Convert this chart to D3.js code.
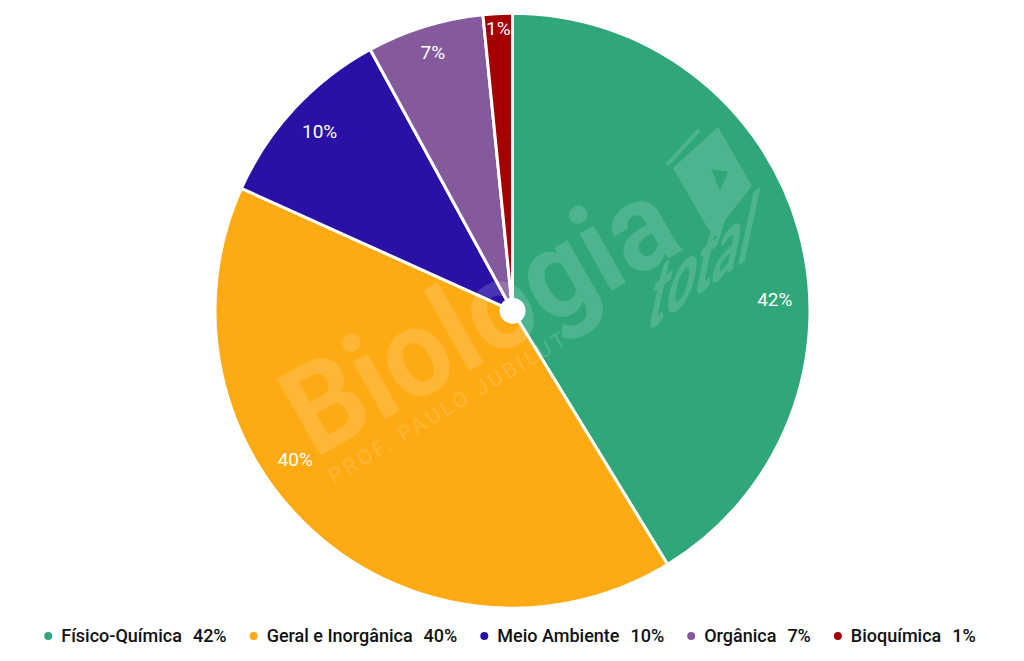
<!DOCTYPE html>
<html>
<head>
<meta charset="utf-8">
<script src="https://cdn.jsdelivr.net/npm/d3@7"></script>
<style>
  html, body { margin: 0; padding: 0; background: #ffffff; }
  svg { display: block; }
</style>
</head>
<body>
<svg id="chart" width="1024" height="661"></svg>
<script>
// ---- data ----
const categories = ["Físico-Química", "Geral e Inorgânica", "Meio Ambiente", "Orgânica", "Bioquímica"];
const values = [52, 51, 13, 8, 2];
const percentLabels = ["42%", "40%", "10%", "7%", "1%"];
const colors = ["#2FA77B", "#FDAA13", "#2A10A4", "#845A9C", "#A50000"];

// ---- layout ----
const cx = 512.5, cy = 310.7;
const R = 297.5;
const holeR = 13;
const svg = d3.select("#chart");

const data = categories.map((c, i) => ({ name: c, value: values[i], label: percentLabels[i], color: colors[i] }));

const pie = d3.pie().value(d => d.value).sort(null).startAngle(0).endAngle(2 * Math.PI);
const arcs = pie(data);
const arcGen = d3.arc().innerRadius(0).outerRadius(R);

const g = svg.append("g").attr("transform", `translate(${cx},${cy})`);

g.selectAll("path.slice")
  .data(arcs)
  .join("path")
  .attr("class", "slice")
  .attr("d", arcGen)
  .attr("fill", d => d.data.color)
  .attr("stroke", "#ffffff")
  .attr("stroke-width", 3)
  .attr("stroke-linejoin", "round");

// ---- watermark ----
const wm = svg.append("g").attr("opacity", 0.15).attr("fill", "#ffffff");
wm.append("text")
  .attr("transform", "translate(314,459) rotate(-29.5)")
  .attr("font-family", "Roboto, sans-serif")
  .attr("font-weight", 700)
  .attr("font-size", 124)
  .attr("textLength", 428)
  .attr("lengthAdjust", "spacingAndGlyphs")
  .text("Biologia");
wm.append("text")
  .attr("transform", "translate(334,484) rotate(-31)")
  .attr("font-family", "Roboto, sans-serif")
  .attr("font-weight", 400)
  .attr("font-size", 21)
  .attr("textLength", 272)
  .attr("lengthAdjust", "spacing")
  .text("PROF. PAULO JUBILUT");
wm.append("text")
  .attr("transform", "translate(644,334) rotate(-36) skewX(-48)")
  .attr("font-family", "Lato, sans-serif")
  .attr("font-weight", 900)
  .attr("font-size", 68)
  .attr("textLength", 128)
  .attr("lengthAdjust", "spacingAndGlyphs")
  .text("total");
// book icon (decorative logo)
wm.append("path")
  .attr("fill-rule", "evenodd")
  .attr("d", "M718,127 L752,186 L725,220 L719,240 L707,227 L673,168 Z M711,169 L728,172 L720,191 Z");
wm.append("path")
  .attr("fill", "none")
  .attr("stroke", "#ffffff")
  .attr("stroke-width", 4)
  .attr("d", "M667,165 L699,130");

// center hole
g.append("circle").attr("r", holeR).attr("fill", "#ffffff");

// ---- slice labels ----
const visR = R - 1.5;
const labelLayout = [
  { dAngle: 13.2, rFrac: 0.887 },
  { dAngle: 14.2, rFrac: 0.889 },
  { dAngle: 0, rFrac: 0.889 },
  { dAngle: 0, rFrac: 0.913 },
  { dAngle: 0, rFrac: 0.956 }
];
g.selectAll("text.plabel")
  .data(arcs)
  .join("text")
  .attr("class", "plabel")
  .attr("transform", (d, i) => {
    const a = (d.startAngle + d.endAngle) / 2 + labelLayout[i].dAngle * Math.PI / 180;
    const r = visR * labelLayout[i].rFrac;
    return `translate(${r * Math.sin(a)},${-r * Math.cos(a)})`;
  })
  .attr("text-anchor", "middle")
  .attr("dy", "0.355em")
  .attr("font-family", "Roboto, sans-serif")
  .attr("font-size", 19)
  .attr("fill", "#ffffff")
  .text(d => d.data.label);

// ---- legend ----
const legY = 636;
const leg = svg.append("g");
const items = leg.selectAll("g.item").data(data).join("g").attr("class", "item");
items.append("circle").attr("r", 4).attr("fill", d => d.color);
items.append("text").attr("class", "lname")
  .attr("x", 13).attr("dy", "0.355em")
  .attr("font-family", "Roboto, sans-serif").attr("font-size", 18).attr("font-weight", 500)
  .attr("fill", "#111111")
  .text(d => d.name);
items.append("text").attr("class", "lpct")
  .attr("dy", "0.355em")
  .attr("font-family", "Roboto, sans-serif").attr("font-size", 18).attr("font-weight", 500)
  .attr("fill", "#111111")
  .text(d => d.label);

let x = 0;
const positions = [];
items.each(function () {
  const it = d3.select(this);
  const nW = it.select(".lname").node().getComputedTextLength();
  const pX = 13 + nW + 11;
  it.select(".lpct").attr("x", pX);
  const pW = it.select(".lpct").node().getComputedTextLength();
  positions.push(x);
  x += pX + pW + 27;
});
const totalW = x - 27 + 4;
const startX = 510 - totalW / 2 + 4;
items.attr("transform", (d, i) => `translate(${startX + positions[i]},${legY})`);
</script>
</body>
</html>
